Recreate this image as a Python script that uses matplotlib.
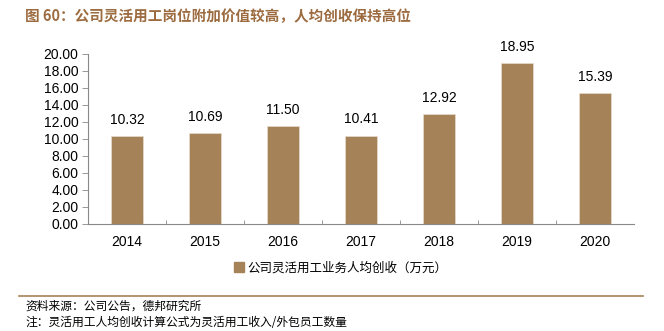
import numpy as np
import matplotlib.pyplot as plt
from matplotlib.lines import Line2D

plt.rcParams['font.family'] = ['Liberation Sans', 'Noto Sans CJK SC', 'DejaVu Sans']

years = ['2014', '2015', '2016', '2017', '2018', '2019', '2020']
revenue = [10.32, 10.69, 11.50, 10.41, 12.92, 18.95, 15.39]
yticks = np.arange(0, 20.01, 2)

bar_c = '#A68259'
brown = '#9C6B40'

fig = plt.figure(figsize=(6.64, 3.31), dpi=100)
ax = fig.add_axes([0.1325, 0.3233, 0.8225, 0.5136])

x = np.arange(len(years))
ax.bar(x, revenue, width=0.41, color=bar_c, edgecolor='#E8DCCB', linewidth=0.5)
for xi, v in zip(x, revenue):
    ax.text(xi, v + 1.1, f'{v:.2f}', ha='center', va='bottom', fontsize=10)

ax.set_xlim(-0.5, len(years) - 0.5)
ax.set_ylim(0, 20)
ax.set_yticks(yticks)
ax.set_yticklabels([f'{t:.2f}' for t in yticks], fontsize=10)
ax.set_xticks(x)
ax.set_xticklabels(years, fontsize=10)
ax.tick_params(axis='x', length=0, pad=8)
ax.tick_params(axis='y', length=4, width=0.6, color='#888888', pad=3)
# small inward marks between categories
ax.set_xticks(np.arange(0.5, len(years) - 0.5, 1), minor=True)
ax.tick_params(axis='x', which='minor', direction='in', length=3, width=0.6, color='#888888')
for s in ['top', 'right']:
    ax.spines[s].set_visible(False)
for s in ['left', 'bottom']:
    ax.spines[s].set_color('#888888')
    ax.spines[s].set_linewidth(0.8)

handle = Line2D([], [], marker='s', color='none', markerfacecolor=bar_c,
                markeredgecolor=bar_c, markersize=7)
fig.legend([handle], ['公司灵活用工业务人均创收（万元）'], loc='center',
           bbox_to_anchor=(340 / 664, 1 - 268 / 331), frameon=False,
           prop={'family': ['Noto Sans CJK SC'], 'size': 9},
           handletextpad=0.1, handlelength=1.0)

fig.text(25 / 664, 1 - 16 / 331, '图 60：公司灵活用工岗位附加价值较高，人均创收保持高位',
         color=brown, fontsize=10.5, fontweight='bold', va='center',
         family=['Noto Sans CJK SC'])

fig.add_artist(Line2D([19 / 664, 643 / 664], [1 - 296 / 331] * 2,
                      color='#A68259', linewidth=1.2))

fig.text(25 / 664, 1 - 306 / 331, '资料来源：公司公告，德邦研究所', fontsize=8.5,
         va='center', family=['Noto Sans CJK SC'])
fig.text(25 / 664, 1 - 322 / 331, '注：灵活用工人均创收计算公式为灵活用工收入/外包员工数量',
         fontsize=8.5, va='center', family=['Noto Sans CJK SC'])

fig.savefig('out.png', dpi=100)
